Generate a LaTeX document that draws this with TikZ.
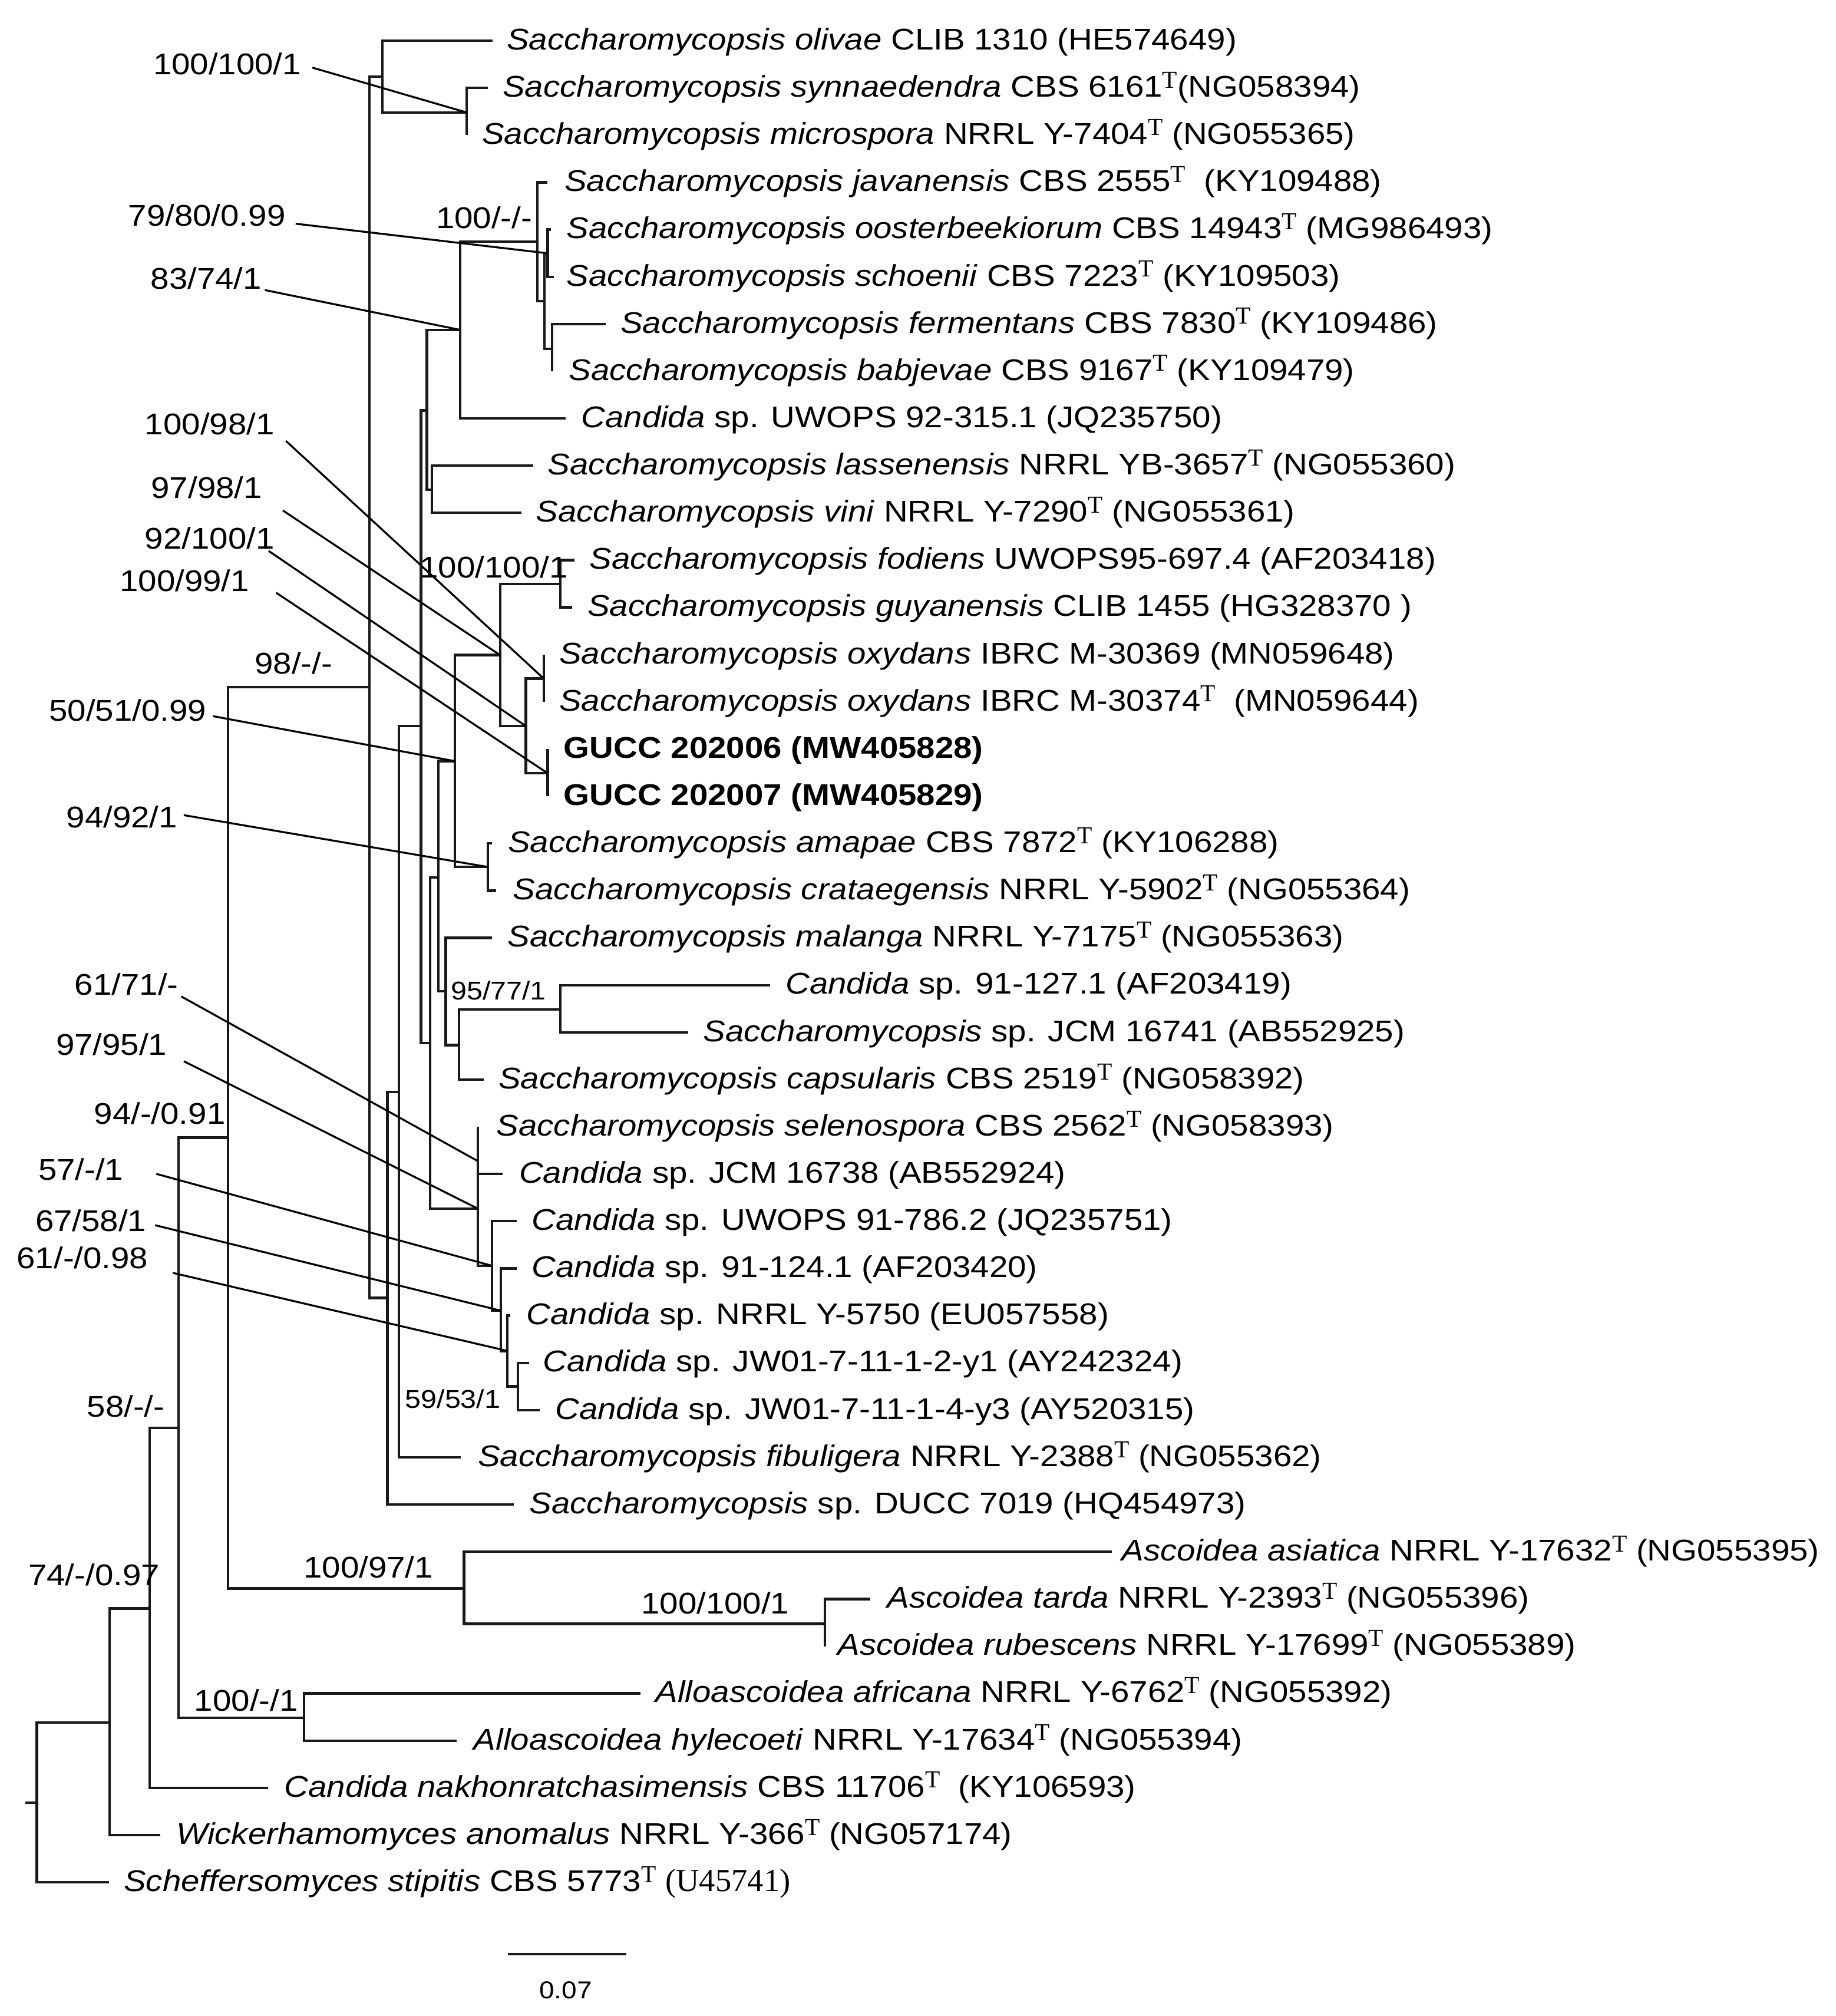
\documentclass[tikz,border=0pt]{standalone}
\usepackage{fontspec}
\setmainfont{Liberation Sans}[FakeStretch=1.11]
\newfontfamily\serifT{Liberation Serif}
\newcommand{\supT}{\raisebox{7pt}{\fontsize{19}{19}\selectfont\serifT T}}
\begin{document}
\begin{tikzpicture}[x=1pt,y=-1pt,
  br/.style={line width=2pt,draw=black!90,line join=miter},
  ldr/.style={line width=1.5pt,draw=black},
  lf/.style={anchor=base west,inner sep=0pt,font=\fontsize{23.3}{27}\selectfont},
  sv/.style={anchor=base west,inner sep=0pt,font=\fontsize{23.3}{27}\selectfont},
  svs/.style={anchor=base west,inner sep=0pt,font=\fontsize{20}{24}\selectfont}]
\useasboundingbox (0,0) rectangle (1428,1568);

% internal nodes
\coordinate (rs) at (19.7,1402);
\coordinate (rt) at (28.7,1402);
\coordinate (X) at (85.2,1339.7);
\coordinate (Y) at (116.4,1251);
\coordinate (Z) at (139,1110.5);
\coordinate (W) at (177.5,884.8);
\coordinate (S) at (287.3,534.5);
\coordinate (O) at (297.5,59.5);
\coordinate (SM) at (363,87.5);
\coordinate (P) at (301.3,1009.5);
\coordinate (Q) at (310.3,849.3);
\coordinate (R) at (327.4,564.8);
\coordinate (A1) at (332,319.2);
\coordinate (C1) at (358,256.6);
\coordinate (E1) at (418,188);
\coordinate (F1) at (423.6,234.3);
\coordinate (G1) at (426,197);
\coordinate (H1) at (429.4,271.3);
\coordinate (D1) at (336,381);
\coordinate (B1) at (334.5,811.3);
\coordinate (I1) at (341,682.6);
\coordinate (J1) at (353.8,592);
\coordinate (L1) at (389,509.5);
\coordinate (N1) at (435.8,454.3);
\coordinate (O1) at (409,564.7);
\coordinate (P1) at (423,527.8);
\coordinate (Q1) at (426,601.4);
\coordinate (M1) at (379.5,674.3);
\coordinate (K1) at (346.7,771);
\coordinate (T1) at (357,812.8);
\coordinate (U1) at (435.9,785);
\coordinate (B2) at (371.6,940);
\coordinate (A2) at (371.6,903);
\coordinate (C2) at (382.8,984.5);
\coordinate (D2) at (389.5,1019.4);
\coordinate (E2) at (394.7,1050.7);
\coordinate (F2) at (403,1078.3);
\coordinate (AS) at (361,1235.5);
\coordinate (AT) at (641.8,1263);
\coordinate (AL) at (236.4,1336);

% leaf tips
\coordinate (t1) at (383,31.6);
\coordinate (t2) at (379.5,68.3);
\coordinate (t3) at (363,105.1);
\coordinate (t4) at (426,141.8);
\coordinate (t5) at (428.5,178.5);
\coordinate (t6) at (431,215.3);
\coordinate (t7) at (471,252.0);
\coordinate (t8) at (429.4,288.7);
\coordinate (t9) at (440,325.4);
\coordinate (t10) at (415,362.2);
\coordinate (t11) at (405.8,398.9);
\coordinate (t12) at (447,435.6);
\coordinate (t13) at (445,472.4);
\coordinate (t14) at (423,509.1);
\coordinate (t15) at (423,545.8);
\coordinate (t16) at (426,582.6);
\coordinate (t17) at (426,619.3);
\coordinate (t18) at (382.7,656.0);
\coordinate (t19) at (386,692.7);
\coordinate (t20) at (382.7,729.5);
\coordinate (t21) at (599,766.2);
\coordinate (t22) at (535.5,802.9);
\coordinate (t23) at (376.3,839.7);
\coordinate (t24) at (371.6,876.4);
\coordinate (t25) at (391,913.1);
\coordinate (t26) at (402,949.8);
\coordinate (t27) at (402,986.6);
\coordinate (t28) at (397,1023.3);
\coordinate (t29) at (411.7,1060.0);
\coordinate (t30) at (419.8,1096.8);
\coordinate (t31) at (358.6,1133.5);
\coordinate (t32) at (399.7,1170.2);
\coordinate (t33) at (865,1206.9);
\coordinate (t34) at (677,1243.7);
\coordinate (t35) at (641.8,1280.4);
\coordinate (t36) at (498,1317.1);
\coordinate (t37) at (355.4,1353.9);
\coordinate (t38) at (208.7,1390.6);
\coordinate (t39) at (124.8,1427.3);
\coordinate (t40) at (84.7,1464.0);

% branches
\draw[br] (rs) -- (rt);
\draw[br] (rt) |- (X);  \draw[br] (rt) |- (t40);
\draw[br] (X) |- (Y);   \draw[br] (X) |- (t39);
\draw[br] (Y) |- (Z);   \draw[br] (Y) |- (t38);
\draw[br] (Z) |- (W);   \draw[br] (Z) |- (AL);
\draw[br] (W) |- (S);   \draw[br] (W) |- (AS);
\draw[br] (S) |- (O);   \draw[br] (S) |- (P);
\draw[br] (O) |- (t1);  \draw[br] (O) |- (SM);
\draw[br] (SM) |- (t2); \draw[br] (SM) |- (t3);
\draw[br] (P) |- (Q);   \draw[br] (P) |- (t32);
\draw[br] (Q) |- (R);   \draw[br] (Q) |- (t31);
\draw[br] (R) |- (A1);  \draw[br] (R) |- (B1);
\draw[br] (A1) |- (C1); \draw[br] (A1) |- (D1);
\draw[br] (C1) |- (E1); \draw[br] (C1) |- (t9);
\draw[br] (E1) |- (t4); \draw[br] (E1) |- (F1);
\draw[br] (F1) |- (G1); \draw[br] (F1) |- (H1);
\draw[br] (G1) |- (t5); \draw[br] (G1) |- (t6);
\draw[br] (H1) |- (t7); \draw[br] (H1) |- (t8);
\draw[br] (D1) |- (t10); \draw[br] (D1) |- (t11);
\draw[br] (B1) |- (I1); \draw[br] (B1) |- (B2);
\draw[br] (I1) |- (J1); \draw[br] (I1) |- (K1);
\draw[br] (J1) |- (L1); \draw[br] (J1) |- (M1);
\draw[br] (L1) |- (N1); \draw[br] (L1) |- (O1);
\draw[br] (N1) |- (t12); \draw[br] (N1) |- (t13);
\draw[br] (O1) |- (P1); \draw[br] (O1) |- (Q1);
\draw[br] (P1) |- (t14); \draw[br] (P1) |- (t15);
\draw[br] (Q1) |- (t16); \draw[br] (Q1) |- (t17);
\draw[br] (M1) |- (t18); \draw[br] (M1) |- (t19);
\draw[br] (K1) |- (t20); \draw[br] (K1) |- (T1);
\draw[br] (T1) |- (U1); \draw[br] (T1) |- (t23);
\draw[br] (U1) |- (t21); \draw[br] (U1) |- (t22);
\draw[br] (B2) |- (A2); \draw[br] (B2) |- (C2);
\draw[br] (A2) |- (t24); \draw[br] (A2) |- (t25);
\draw[br] (C2) |- (t26); \draw[br] (C2) |- (D2);
\draw[br] (D2) |- (t27); \draw[br] (D2) |- (E2);
\draw[br] (E2) |- (t28); \draw[br] (E2) |- (F2);
\draw[br] (F2) |- (t29); \draw[br] (F2) |- (t30);
\draw[br] (AS) |- (t33); \draw[br] (AS) |- (AT);
\draw[br] (AT) |- (t34); \draw[br] (AT) |- (t35);
\draw[br] (AL) |- (t36); \draw[br] (AL) |- (t37);

% leaf labels
\node[lf] (n1) at (394,38.6) {\textit{Saccharomycopsis olivae} CLIB 1310 (HE574649)};
\node[lf] (n2) at (390.8,75.3) {\textit{Saccharomycopsis synnaedendra} CBS 6161\supT(NG058394)};
\node[lf] (n3) at (374.8,112.1) {\textit{Saccharomycopsis microspora} NRRL Y-7404\supT\ (NG055365)};
\node[lf] (n4) at (439,148.8) {\textit{Saccharomycopsis javanensis} CBS 2555\supT\ \ (KY109488)};
\node[lf] (n5) at (440.7,185.5) {\textit{Saccharomycopsis oosterbeekiorum} CBS 14943\supT\ (MG986493)};
\node[lf] (n6) at (440.7,222.3) {\textit{Saccharomycopsis schoenii} CBS 7223\supT\ (KY109503)};
\node[lf] (n7) at (482.5,259.0) {\textit{Saccharomycopsis fermentans} CBS 7830\supT\ (KY109486)};
\node[lf] (n8) at (442.3,295.7) {\textit{Saccharomycopsis babjevae} CBS 9167\supT\ (KY109479)};
\node[lf] (n9) at (452,332.4) {\textit{Candida} sp. UWOPS 92-315.1 (JQ235750)};
\node[lf] (n10) at (426,369.2) {\textit{Saccharomycopsis lassenensis} NRRL YB-3657\supT\ (NG055360)};
\node[lf] (n11) at (416.6,405.9) {\textit{Saccharomycopsis vini} NRRL Y-7290\supT\ (NG055361)};
\node[lf] (n12) at (458.4,442.6) {\textit{Saccharomycopsis fodiens} UWOPS95-697.4 (AF203418)};
\node[lf] (n13) at (456.8,479.4) {\textit{Saccharomycopsis guyanensis} CLIB 1455 (HG328370 )};
\node[lf] (n14) at (434.9,516.1) {\textit{Saccharomycopsis oxydans} IBRC M-30369 (MN059648)};
\node[lf] (n15) at (434.9,552.8) {\textit{Saccharomycopsis oxydans} IBRC M-30374\supT\ \ (MN059644)};
\node[lf] (n16) at (438.4,589.6) {\textbf{GUCC 202006 (MW405828)}};
\node[lf] (n17) at (438.4,626.3) {\textbf{GUCC 202007 (MW405829)}};
\node[lf] (n18) at (395,663.0) {\textit{Saccharomycopsis amapae} CBS 7872\supT\ (KY106288)};
\node[lf] (n19) at (398.9,699.7) {\textit{Saccharomycopsis crataegensis} NRRL Y-5902\supT\ (NG055364)};
\node[lf] (n20) at (394.7,736.5) {\textit{Saccharomycopsis malanga} NRRL Y-7175\supT\ (NG055363)};
\node[lf] (n21) at (611,773.2) {\textit{Candida} sp. 91-127.1 (AF203419)};
\node[lf] (n22) at (546.8,809.9) {\textit{Saccharomycopsis} sp. JCM 16741 (AB552925)};
\node[lf] (n23) at (387.6,846.7) {\textit{Saccharomycopsis capsularis} CBS 2519\supT\ (NG058392)};
\node[lf] (n24) at (386,883.4) {\textit{Saccharomycopsis selenospora} CBS 2562\supT\ (NG058393)};
\node[lf] (n25) at (403.7,920.1) {\textit{Candida} sp. JCM 16738 (AB552924)};
\node[lf] (n26) at (413.4,956.8) {\textit{Candida} sp. UWOPS 91-786.2 (JQ235751)};
\node[lf] (n27) at (413.4,993.6) {\textit{Candida} sp. 91-124.1 (AF203420)};
\node[lf] (n28) at (409.5,1030.3) {\textit{Candida} sp. NRRL Y-5750 (EU057558)};
\node[lf] (n29) at (422.3,1067.0) {\textit{Candida} sp. JW01-7-11-1-2-y1 (AY242324)};
\node[lf] (n30) at (431.7,1103.8) {\textit{Candida} sp. JW01-7-11-1-4-y3 (AY520315)};
\node[lf] (n31) at (371.6,1140.5) {\textit{Saccharomycopsis fibuligera} NRRL Y-2388\supT\ (NG055362)};
\node[lf] (n32) at (411.7,1177.2) {\textit{Saccharomycopsis} sp. DUCC 7019 (HQ454973)};
\node[lf] (n33) at (872.4,1213.9) {\textit{Ascoidea asiatica} NRRL Y-17632\supT\ (NG055395)};
\node[lf] (n34) at (690,1250.7) {\textit{Ascoidea tarda} NRRL Y-2393\supT\ (NG055396)};
\node[lf] (n35) at (651.4,1287.4) {\textit{Ascoidea rubescens} NRRL Y-17699\supT\ (NG055389)};
\node[lf] (n36) at (509.8,1324.1) {\textit{Alloascoidea africana} NRRL Y-6762\supT\ (NG055392)};
\node[lf] (n37) at (368.3,1360.9) {\textit{Alloascoidea hylecoeti} NRRL Y-17634\supT\ (NG055394)};
\node[lf] (n38) at (221,1397.6) {\textit{Candida nakhonratchasimensis} CBS 11706\supT\ \ (KY106593)};
\node[lf] (n39) at (137,1434.3) {\textit{Wickerhamomyces anomalus} NRRL Y-366\supT\ (NG057174)};
\node[lf] (n40) at (96.2,1471.0) {\textit{Scheffersomyces stipitis} CBS 5773\supT\ {\serifT\fontsize{25}{28}\selectfont(U45741)}};

% support values
\node[sv] (s1) at (119,58) {100/100/1};
\node[sv] (s2) at (99.6,176) {79/80/0.99};
\node[sv] (s3) at (339,177.8) {100/-/-};
\node[sv] (s4) at (117,225) {83/74/1};
\node[sv] (s5) at (112.5,338) {100/98/1};
\node[sv] (s6) at (117.4,387.5) {97/98/1};
\node[sv] (s7) at (112.5,427) {92/100/1};
\node[sv] (s8) at (93,460) {100/99/1};
\node[sv] (s9) at (326.4,449.5) {100/100/1};
\node[sv] (s10) at (198,524) {98/-/-};
\node[sv] (s11) at (38,560.6) {50/51/0.99};
\node[sv] (s12) at (51.5,643.7) {94/92/1};
\node[sv] (s13) at (58,774) {61/71/-};
\node[svs] (s14) at (350.5,777.7) {95/77/1};
\node[sv] (s15) at (43.4,820.6) {97/95/1};
\node[sv] (s16) at (73,874.5) {94/-/0.91};
\node[sv] (s17) at (29.6,917.8) {57/-/1};
\node[sv] (s18) at (27.3,957.6) {67/58/1};
\node[sv] (s19) at (12.9,986.8) {61/-/0.98};
\node[svs] (s20) at (315,1095) {59/53/1};
\node[sv] (s21) at (67.5,1102) {58/-/-};
\node[sv] (s22) at (236,1227) {100/97/1};
\node[sv] (s23) at (498.6,1255) {100/100/1};
\node[sv] (s24) at (21.9,1233) {74/-/0.97};
\node[sv] (s25) at (151,1331) {100/-/1};

% leader starts
\coordinate (l1) at (243,52.6);
\coordinate (l2) at (230,174);
\coordinate (l4) at (206,225.6);
\coordinate (l5) at (222.5,343);
\coordinate (l6) at (220,397);
\coordinate (l7) at (209,428.5);
\coordinate (l8) at (214.8,461);
\coordinate (l11) at (165.6,557);
\coordinate (l12) at (143,634);
\coordinate (l13) at (141,775);
\coordinate (l15) at (143,825.4);
\coordinate (l17) at (121.6,913);
\coordinate (l18) at (120.6,952.9);
\coordinate (l19) at (134.4,990);

\draw[ldr] (l1) -- (SM);
\draw[ldr] (l2) -- (G1);
\draw[ldr] (l4) -- (C1);
\draw[ldr] (l5) -- (P1);
\draw[ldr] (l6) -- (L1);
\draw[ldr] (l7) -- (O1);
\draw[ldr] (l8) -- (Q1);
\draw[ldr] (l11) -- (J1);
\draw[ldr] (l12) -- (M1);
\draw[ldr] (l13) -- (A2);
\draw[ldr] (l15) -- (B2);
\draw[ldr] (l17) -- (C2);
\draw[ldr] (l18) -- (D2);
\draw[ldr] (l19) -- (E2);

% scale bar
\coordinate (sb1) at (395,1520);
\coordinate (sb2) at (487,1520);
\draw[br] (sb1) -- (sb2);
\node[anchor=base,inner sep=0pt,font=\fontsize{19}{23}\selectfont] (sbl) at (440,1554.6) {0.07};
\end{tikzpicture}
\end{document}
